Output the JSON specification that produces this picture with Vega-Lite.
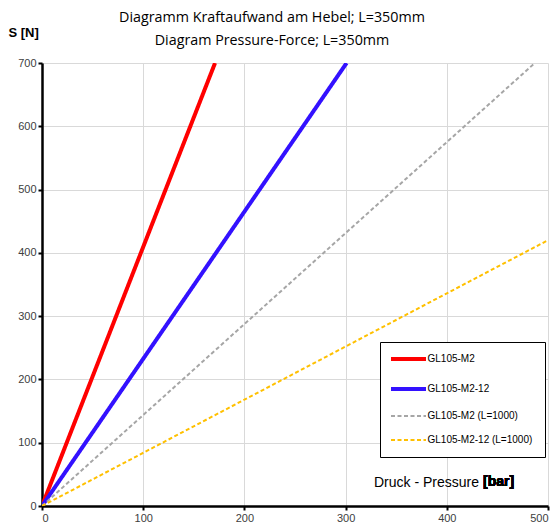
{
  "$schema": "https://vega.github.io/schema/vega-lite/v6.json",
  "width": 506,
  "height": 443,
  "autosize": "none",
  "padding": {"left": 42, "top": 63, "right": 9, "bottom": 20},
  "background": "white",
  "title": {
    "text": ["Diagramm Kraftaufwand am Hebel; L=350mm", "Diagram Pressure-Force; L=350mm"],
    "font": "Open Sans",
    "fontSize": 14.3,
    "fontWeight": "normal",
    "color": "black",
    "lineHeight": 23,
    "anchor": "middle",
    "frame": "group",
    "dx": -23,
    "dy": 26,
    "offset": 4
  },
  "config": {
    "view": {"stroke": null},
    "axis": {
      "labelFont": "Liberation Sans",
      "labelFontSize": 11,
      "labelColor": "#404040",
      "domainColor": "black",
      "domainWidth": 2.5,
      "tickColor": "black",
      "tickWidth": 2,
      "tickSize": 4,
      "labelPadding": 2,
      "gridColor": "#d9d9d9",
      "gridWidth": 1
    }
  },
  "data": {
    "values": [
      {"series": "GL105-M2", "P": 0, "S": 0},
      {"series": "GL105-M2", "P": 171, "S": 700},
      {"series": "GL105-M2-12", "P": 0, "S": 0},
      {"series": "GL105-M2-12", "P": 301, "S": 700},
      {"series": "GL105-M2 (L=1000)", "P": 0, "S": 0},
      {"series": "GL105-M2 (L=1000)", "P": 487, "S": 700},
      {"series": "GL105-M2-12 (L=1000)", "P": 0, "S": 0},
      {"series": "GL105-M2-12 (L=1000)", "P": 500, "S": 420}
    ]
  },
  "layer": [
    {
      "mark": {"type": "line", "clip": true},
      "encoding": {
        "x": {
          "field": "P", "type": "quantitative",
          "scale": {"domain": [0, 500], "nice": false},
          "axis": {
            "values": [0, 100, 200, 300, 400, 500],
            "grid": true,
            "title": "Druck - Pressure",
            "titleFont": "Liberation Sans",
            "titleFontSize": 14,
            "titleFontWeight": "normal",
            "titleColor": "black",
            "titleAlign": "right",
            "titleBaseline": "middle",
            "titleX": 436.5,
            "titleY": -24
          }
        },
        "y": {
          "field": "S", "type": "quantitative",
          "scale": {"domain": [0, 700], "nice": false},
          "axis": {
            "values": [0, 100, 200, 300, 400, 500, 600, 700],
            "grid": true,
            "title": "S [N]",
            "titleFont": "Liberation Sans",
            "titleFontSize": 13,
            "titleFontWeight": "bold",
            "titleColor": "black",
            "titleAngle": 0,
            "titleAlign": "left",
            "titleBaseline": "middle",
            "titleX": -34,
            "titleY": -31
          }
        },
        "color": {
          "field": "series", "type": "nominal",
          "scale": {
            "domain": ["GL105-M2", "GL105-M2-12", "GL105-M2 (L=1000)", "GL105-M2-12 (L=1000)"],
            "range": ["#ff0000", "#3311ff", "#a6a6a6", "#ffc000"]
          },
          "legend": {
            "title": null,
            "orient": "none",
            "legendX": 338,
            "legendY": 279,
            "padding": 12,
            "strokeColor": "black",
            "fillColor": "white",
            "symbolType": "M-5.833,0H5.833",
            "symbolSize": 36,
            "symbolStrokeWidth": 2,
            "symbolOffset": 11.5,
            "labelOffset": 14,
            "rowPadding": 14,
            "labelFont": "Liberation Sans",
            "labelFontSize": 10,
            "labelColor": "black",
            "encode": {
              "symbols": {
                "update": {
                  "strokeWidth": {"signal": "indexof(['GL105-M2','GL105-M2-12'], datum.value) >= 0 ? 4 : 2"}
                }
              }
            }
          }
        },
        "strokeDash": {
          "field": "series", "type": "nominal",
          "scale": {
            "domain": ["GL105-M2", "GL105-M2-12", "GL105-M2 (L=1000)", "GL105-M2-12 (L=1000)"],
            "range": [[1, 0], [1, 0], [4, 2.5], [4, 2.5]]
          }
        },
        "strokeWidth": {
          "field": "series", "type": "nominal",
          "scale": {
            "type": "ordinal",
            "domain": ["GL105-M2", "GL105-M2-12", "GL105-M2 (L=1000)", "GL105-M2-12 (L=1000)"],
            "range": [4, 4, 2, 2]
          },
          "legend": null
        },
        "order": {"field": "P", "type": "quantitative"}
      }
    },
    {
      "mark": {"type": "text", "text": "[bar]", "font": "Liberation Sans", "fontSize": 14, "fontWeight": "bold", "align": "left", "baseline": "middle", "color": "black"},
      "encoding": {
        "x": {"datum": 435.8},
        "y": {"datum": 37.9}
      }
    }
  ]
}
